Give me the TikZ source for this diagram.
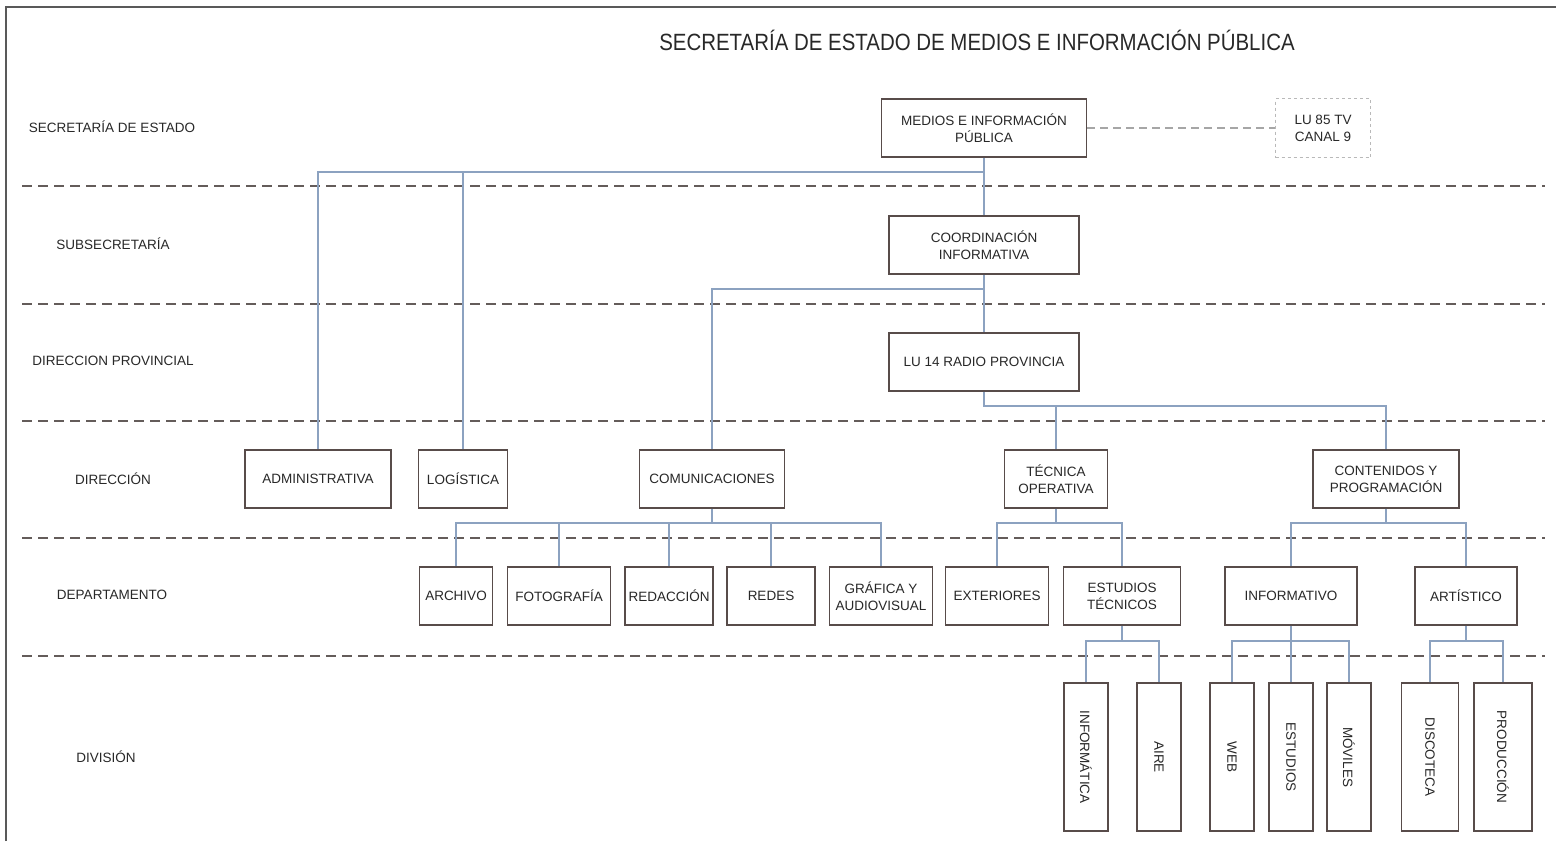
\documentclass[tikz,border=0pt]{standalone}
\usepackage{fontspec}
\setmainfont{Liberation Sans}
\newfontfamily\titlefont[FakeStretch=0.87]{Liberation Sans}
\usetikzlibrary{calc}
\definecolor{boxline}{RGB}{88,76,74}
\definecolor{sepline}{RGB}{100,92,90}
\definecolor{connline}{RGB}{140,162,192}
\definecolor{txt}{RGB}{40,40,40}
\tikzset{
  box/.style={draw=boxline, line width=1.5pt, fill=white, inner sep=0pt, align=center,
    font=\fontsize{13.5}{17}\selectfont, text=txt},
  vbox/.style={box, minimum width=44pt, minimum height=148pt},
  lvl/.style={font=\fontsize{13.5}{17}\selectfont, text=txt, inner sep=0pt},
  sep/.style={draw=sepline, line width=2pt, dash pattern=on 10pt off 6pt},
  conn/.style={draw=connline, line width=1.3pt},
  dconn/.style={draw=gray!70, line width=1.3pt, dash pattern=on 8pt off 5pt},
}
\begin{document}
\begin{tikzpicture}[x=1pt,y=-1pt]
\useasboundingbox (0,0) rectangle (1556,841);
\fill[white] (0,0) rectangle (1556,841);
% frame
\draw[line width=2pt, gray!70!black] (6,841) -- (6,7) -- (1556,7);
% title
\node[font=\titlefont\fontsize{23.5}{26}\selectfont, text=txt, inner sep=0pt] (title) at (977,40) {SECRETARÍA DE ESTADO DE MEDIOS E INFORMACIÓN PÚBLICA};
% separators
\foreach \yy in {186,304,421,538,656} \draw[sep] (22,\yy) -- (1545,\yy);
% level labels
\node[lvl] (l1) at (112,127) {SECRETARÍA DE ESTADO};
\node[lvl] (l2) at (113,244) {SUBSECRETARÍA};
\node[lvl] (l3) at (113,361) {DIRECCION PROVINCIAL};
\node[lvl] (l4) at (113,479) {DIRECCIÓN};
\node[lvl] (l5) at (112,595) {DEPARTAMENTO};
\node[lvl] (l6) at (106,757) {DIVISIÓN};
% boxes
\node[box, minimum width=205pt, minimum height=58pt] (medios) at (984,128) {MEDIOS E INFORMACIÓN\\PÚBLICA};
\node[box, draw=gray!55, dashed, line width=1.2pt, minimum width=95pt, minimum height=59pt] (lu85) at (1323,128) {LU 85 TV\\CANAL 9};
\node[box, minimum width=190pt, minimum height=58pt] (coord) at (984,245) {COORDINACIÓN\\INFORMATIVA};
\node[box, minimum width=190pt, minimum height=58pt] (lu14) at (984,362) {LU 14 RADIO PROVINCIA};
\node[box, minimum width=146pt, minimum height=58pt] (admin) at (318,479) {ADMINISTRATIVA};
\node[box, minimum width=89pt, minimum height=58pt] (logis) at (463,479) {LOGÍSTICA};
\node[box, minimum width=145pt, minimum height=58pt] (comu) at (712,479) {COMUNICACIONES};
\node[box, minimum width=103pt, minimum height=58pt] (tecop) at (1056,479) {TÉCNICA\\OPERATIVA};
\node[box, minimum width=146pt, minimum height=58pt] (cont) at (1386,479) {CONTENIDOS Y\\PROGRAMACIÓN};
\node[box, minimum width=73pt, minimum height=58pt] (arch) at (456,596) {ARCHIVO};
\node[box, minimum width=103pt, minimum height=58pt] (foto) at (559,596) {FOTOGRAFÍA};
\node[box, minimum width=88pt, minimum height=58pt] (reda) at (669,596) {REDACCIÓN};
\node[box, minimum width=88pt, minimum height=58pt] (redes) at (771,596) {REDES};
\node[box, minimum width=103pt, minimum height=58pt] (graf) at (881,596) {GRÁFICA Y\\AUDIOVISUAL};
\node[box, minimum width=103pt, minimum height=58pt] (ext) at (997,596) {EXTERIORES};
\node[box, minimum width=117pt, minimum height=58pt] (esttec) at (1122,596) {ESTUDIOS\\TÉCNICOS};
\node[box, minimum width=132pt, minimum height=58pt] (infor) at (1291,596) {INFORMATIVO};
\node[box, minimum width=102pt, minimum height=58pt] (art) at (1466,596) {ARTÍSTICO};
% division boxes
\node[vbox] (inf) at (1086,757) {\rotatebox{-90}{INFORMÁTICA}};
\node[vbox] (aire) at (1159,757) {\rotatebox{-90}{AIRE}};
\node[vbox] (web) at (1232,757) {\rotatebox{-90}{WEB}};
\node[vbox] (estu) at (1291,757) {\rotatebox{-90}{ESTUDIOS}};
\node[vbox] (movi) at (1349,757) {\rotatebox{-90}{MÓVILES}};
\node[vbox, minimum width=57pt] (disco) at (1430,757) {\rotatebox{-90}{DISCOTECA}};
\node[vbox, minimum width=58pt] (prod) at (1503,757) {\rotatebox{-90}{PRODUCCIÓN}};
% junction coordinates
\coordinate (j1) at (984,172);
\coordinate (j2) at (984,289);
\coordinate (j3) at (984,406);
\coordinate (j4) at (712,523);
\coordinate (j5) at (1056,523);
\coordinate (j6) at (1386,523);
\coordinate (j7) at (1122,641);
\coordinate (j8) at (1291,641);
\coordinate (j9) at (1466,641);
% connectors
\draw[dconn] (medios.east) -- (lu85.west);
\draw[conn] (medios.south) -- (coord.north);
\draw[conn] (j1) -| (admin.north);
\draw[conn] (j1) -| (logis.north);
\draw[conn] (coord.south) -- (lu14.north);
\draw[conn] (j2) -| (comu.north);
\draw[conn] (lu14.south) -- (j3) -| (cont.north);
\draw[conn] (j3) -| (tecop.north);
\draw[conn] (comu.south) -- (j4);
\draw[conn] (j4) -| (arch.north);
\draw[conn] (j4) -| (foto.north);
\draw[conn] (j4) -| (reda.north);
\draw[conn] (j4) -| (redes.north);
\draw[conn] (j4) -| (graf.north);
\draw[conn] (tecop.south) -- (j5);
\draw[conn] (j5) -| (ext.north);
\draw[conn] (j5) -| (esttec.north);
\draw[conn] (cont.south) -- (j6);
\draw[conn] (j6) -| (infor.north);
\draw[conn] (j6) -| (art.north);
\draw[conn] (esttec.south) -- (j7);
\draw[conn] (j7) -| (inf.north);
\draw[conn] (j7) -| (aire.north);
\draw[conn] (infor.south) -- (estu.north);
\draw[conn] (j8) -| (web.north);
\draw[conn] (j8) -| (movi.north);
\draw[conn] (art.south) -- (j9);
\draw[conn] (j9) -| (disco.north);
\draw[conn] (j9) -| (prod.north);
\end{tikzpicture}
\end{document}
